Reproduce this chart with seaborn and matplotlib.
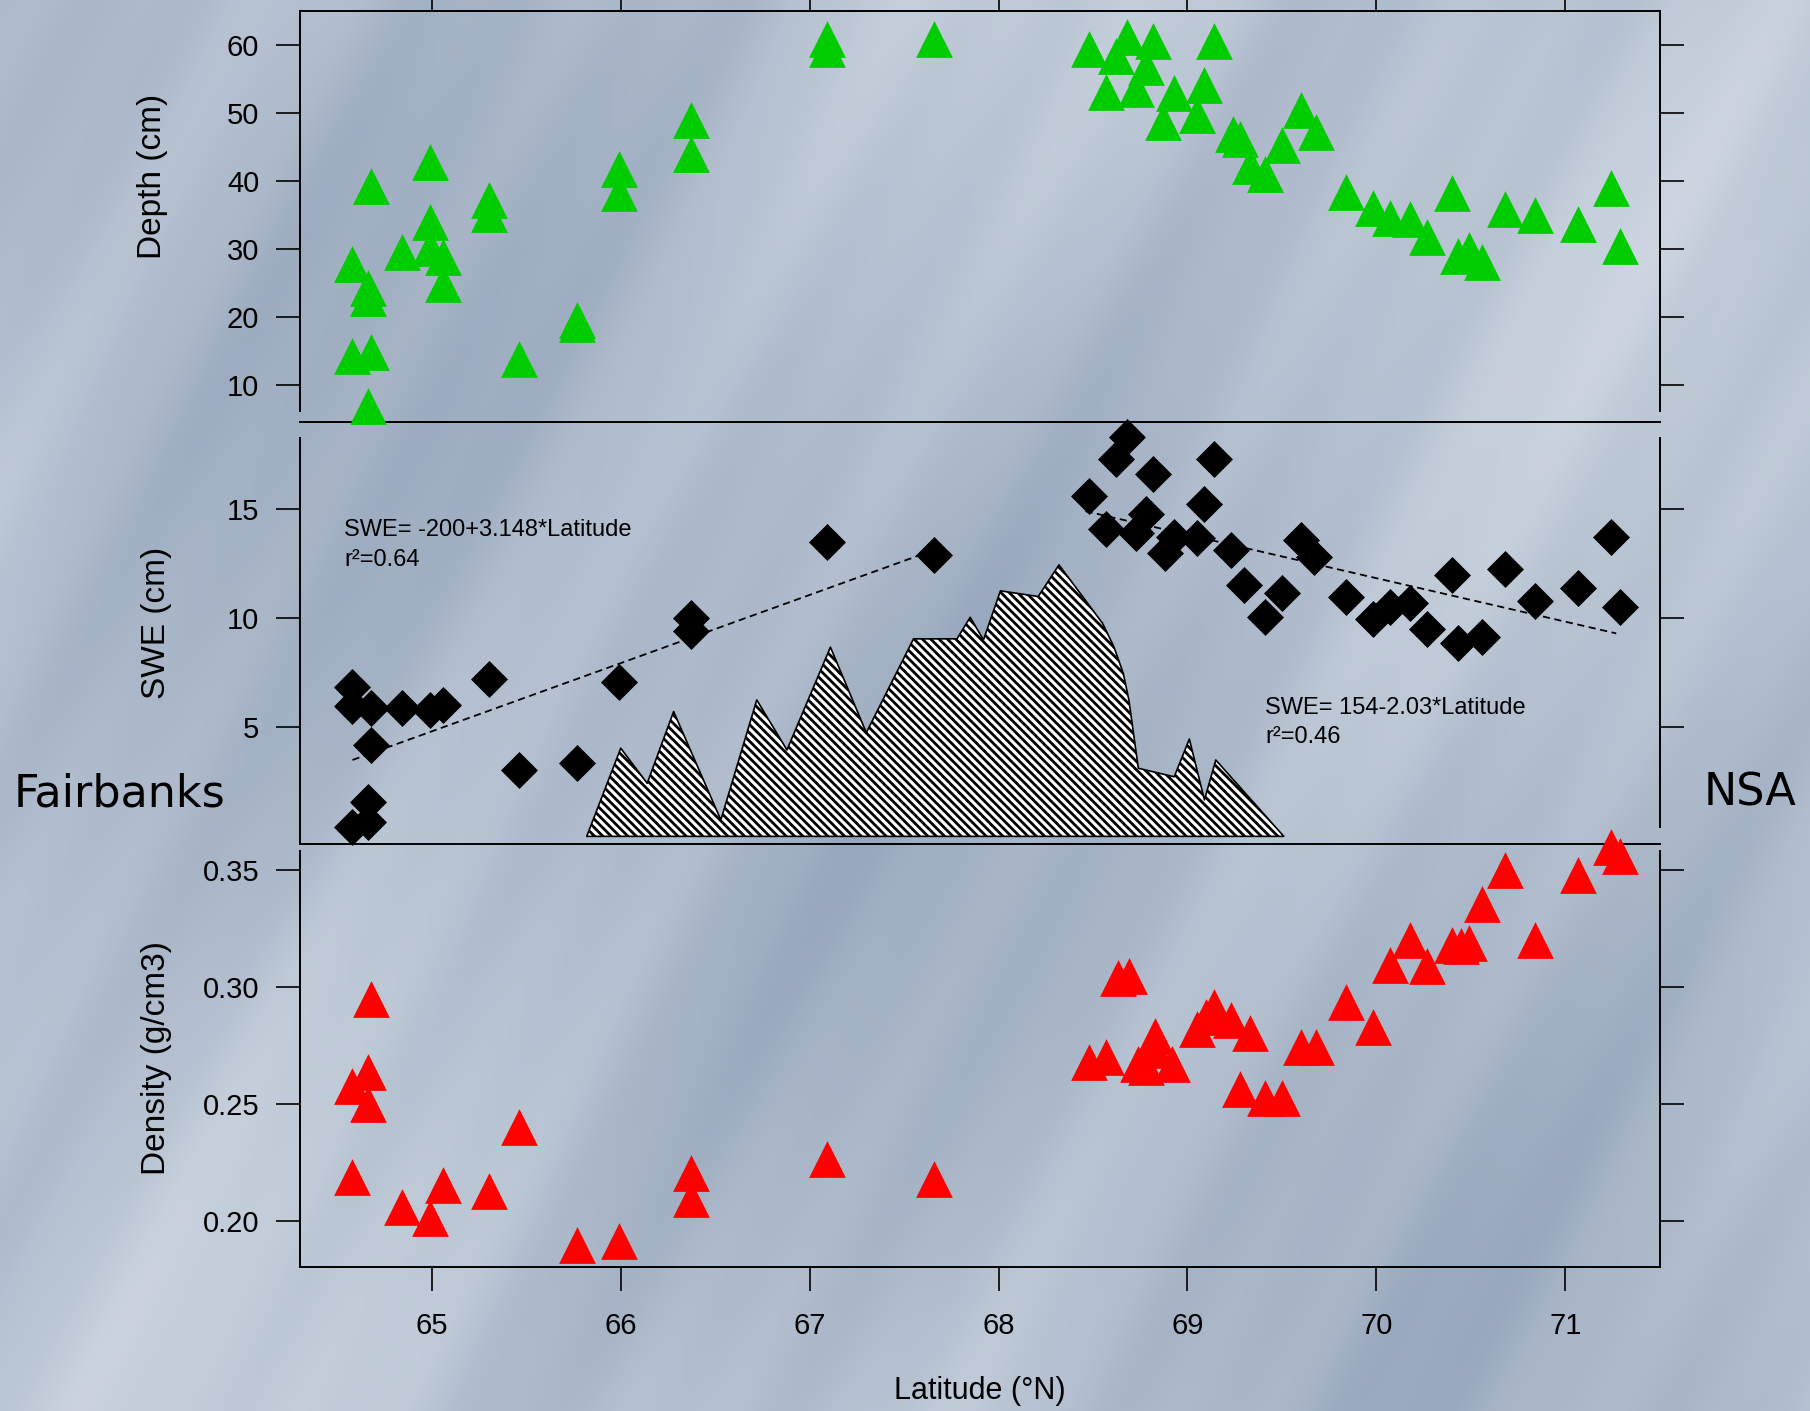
import numpy as np
import seaborn as sns
import matplotlib.pyplot as plt
from matplotlib.colors import LinearSegmentedColormap

# =============================================================================
# values
depth_lat = [64.58, 64.66, 64.66, 64.58, 64.68, 64.66, 64.68, 64.84, 64.99, 64.99,
             64.99, 65.06, 65.06, 65.30, 65.30, 65.46, 65.77, 65.77, 65.99, 65.99,
             66.37, 66.37, 67.09, 67.09,
             67.66, 68.48, 68.68, 68.82, 69.14, 68.62, 68.78, 68.57, 68.73, 68.93,
             69.09, 68.87, 69.05, 69.24, 69.28, 69.60, 69.68, 69.50, 69.33, 69.41,
             69.84, 69.98, 70.07, 70.18, 70.27, 70.40, 70.43, 70.49, 70.56, 70.68,
             70.84, 71.07, 71.24, 71.29]
depth_cm = [27.8, 24.2, 22.8, 14.3, 14.9, 6.9, 39.3, 29.6, 42.8, 34.0,
            30.1, 28.8, 24.8, 37.2, 35.1, 13.8, 19.6, 18.9, 41.7, 38.2,
            49.0, 43.9, 60.8, 59.3,
            60.9, 59.3, 61.1, 60.5, 60.5, 58.3, 56.7, 53.1, 53.5, 52.9,
            54.1, 48.7, 49.6, 46.9, 46.1, 50.4, 47.2, 45.2, 42.2, 41.0,
            38.4, 36.0, 34.6, 34.4, 31.8, 38.2, 28.9, 29.9, 28.0, 35.8,
            34.9, 33.6, 39.0, 30.4]

swe_lat = [64.58, 64.58, 64.68, 64.68, 64.84, 64.99, 65.06, 65.30, 65.46, 65.77,
           65.99, 66.37, 66.37, 67.09, 64.66, 64.58, 64.66,
           67.66, 68.68, 68.62, 68.82, 69.14, 68.48, 69.09, 68.78, 68.57, 68.73,
           68.88, 68.93, 69.05, 69.23, 69.60, 69.67, 69.30, 69.50, 69.41, 69.84,
           69.98, 70.07, 70.18, 70.27, 70.40, 70.43, 70.56, 70.68, 70.84, 71.07,
           71.24, 71.29]
swe_cm = [6.83, 5.98, 5.87, 4.19, 5.87, 5.80, 6.02, 7.22, 3.04, 3.35,
          7.06, 10.0, 9.39, 13.48, 1.59, 0.44, 0.67,
          12.9, 18.3, 17.3, 16.6, 17.3, 15.6, 15.23, 14.75, 14.1, 13.9,
          12.98, 13.7, 13.65, 13.1, 13.56, 12.8, 11.54, 11.17, 10.05, 10.99,
          9.97, 10.49, 10.69, 9.51, 11.97, 8.85, 9.14, 12.26, 10.79, 11.36,
          13.73, 10.53]

dens_lat = [64.68, 64.66, 64.58, 64.66, 64.58, 64.84, 64.99, 65.06, 65.30, 65.46,
            65.77, 65.99, 66.37, 66.37, 67.09,
            67.66, 68.48, 68.57, 68.63, 68.69, 68.74, 68.78, 68.83, 68.83, 68.92,
            69.05, 69.10, 69.14, 69.23, 69.33, 69.28, 69.41, 69.50, 69.60, 69.68,
            69.84, 69.98, 70.07, 70.18, 70.27, 70.40, 70.45, 70.49, 70.56, 70.68,
            70.84, 71.07, 71.24, 71.29]
dens_gcm3 = [0.295, 0.264, 0.258, 0.250, 0.219, 0.206, 0.2015, 0.2155, 0.213, 0.2405,
             0.190, 0.1915, 0.2205, 0.2095, 0.2265,
             0.218, 0.268, 0.270, 0.304, 0.305, 0.267, 0.266, 0.279, 0.273, 0.267,
             0.282, 0.2875, 0.2915, 0.286, 0.2805, 0.2565, 0.2525, 0.2525, 0.2745, 0.2745,
             0.2935, 0.283, 0.3095, 0.320, 0.309, 0.318, 0.3175, 0.319, 0.3355, 0.350,
             0.320, 0.348, 0.360, 0.356]

# elevation profile drawn (hatched) in the SWE panel
elev_lat = [65.82, 66.00, 66.14, 66.28, 66.53, 66.72, 66.88, 67.11, 67.30, 67.55,
            67.78, 67.85, 67.92, 68.01, 68.21, 68.32, 68.55, 68.61, 68.66, 68.69,
            68.74, 68.93, 69.01, 69.09, 69.15, 69.51]
elev_val = [0.0, 4.04, 2.43, 5.72, 0.75, 6.25, 3.96, 8.67, 4.75, 9.05,
            9.05, 10.04, 9.0, 11.25, 10.99, 12.44, 9.77, 8.70, 7.48, 6.25,
            3.12, 2.73, 4.46, 1.67, 3.50, 0.0]

# regression lines (south / north of the range)
fit_s_lat = [64.58, 67.62]
fit_s_swe = [3.5, 13.0]
fit_n_lat = [68.46, 71.27]
fit_n_swe = [14.9, 9.3]

lat_ticks = [65, 66, 67, 68, 69, 70, 71]
depth_ticks = [10, 20, 30, 40, 50, 60]
swe_ticks = [5, 10, 15]
dens_ticks = [0.20, 0.25, 0.30, 0.35]

# =============================================================================
sns.set_style('ticks')
plt.rcParams['font.family'] = ['Liberation Sans', 'DejaVu Sans']
plt.rcParams['hatch.linewidth'] = 2.0
for k in ['text.color', 'axes.labelcolor', 'xtick.color', 'ytick.color']:
    plt.rcParams[k] = 'black'

W, H = 1810, 1411
fig = plt.figure(figsize=(W / 100, H / 100), dpi=100)

# snowy backdrop
bg = fig.add_axes([0, 0, 1, 1], zorder=0)
yy, xx = np.mgrid[0:H:3, 0:W:3].astype(float)
p = xx * 0.87 + yy * 0.5
tex = (0.55 + 0.12 * np.sin(p / 110.0) + 0.07 * np.sin(p / 41.0 + 1.7)
       + 0.03 * np.sin(p / 17.0 + xx / 170.0)
       - 0.13 * np.cos(xx / 430.0 - yy / 390.0))
cmap = LinearSegmentedColormap.from_list('snow', ['#97a7bc', '#b2bece', '#ccd5e0'])
bg.imshow(tex, cmap=cmap, aspect='auto', extent=[0, 1, 0, 1], interpolation='bilinear')
bg.axis('off')


def frac(x0, y0, x1, y1):
    return [x0 / W, 1 - y1 / H, (x1 - x0) / W, (y1 - y0) / H]


ax1 = fig.add_axes(frac(299.6, 11, 1659.7, 421.7), zorder=2)
ax2 = fig.add_axes(frac(299.6, 421.7, 1659.7, 844), zorder=2)
ax3 = fig.add_axes(frac(299.6, 844, 1659.7, 1267.2), zorder=2)

tick_kw = dict(direction='out', length=17, width=1.2, color='black', labelsize=21)

# -- depth --
sns.scatterplot(x=depth_lat, y=depth_cm, ax=ax1, marker='^', s=700, color='#00cc00',
                linewidth=0, clip_on=False, legend=False, zorder=3)
ax1.set_ylim(4.6, 64.95)
ax1.set_yticks(depth_ticks)
ax1.tick_params(axis='x', top=True, bottom=False, labeltop=False, labelbottom=False, **tick_kw)
ax1.set_ylabel('Depth (cm)', fontsize=24)
ax1.yaxis.set_label_coords(-0.097, 0.597)
for s in ['left', 'right']:
    ax1.spines[s].set_bounds(6.1, 64.95)

# -- SWE --
ax2.fill_between(elev_lat, 0, elev_val, facecolor='white', edgecolor='black',
                 hatch='\\\\\\\\', linewidth=1.2, zorder=1)
sns.lineplot(x=fit_s_lat, y=fit_s_swe, ax=ax2, color='black', linewidth=1.3,
             linestyle=(0, (4, 2.5)), zorder=2)
sns.lineplot(x=fit_n_lat, y=fit_n_swe, ax=ax2, color='black', linewidth=1.3,
             linestyle=(0, (4, 2.5)), zorder=2)
sns.scatterplot(x=swe_lat, y=swe_cm, ax=ax2, marker='D', s=355, color='black',
                linewidth=0, clip_on=False, legend=False, zorder=3)
ax2.set_ylim(-0.35, 19.0)
ax2.set_yticks(swe_ticks)
ax2.tick_params(axis='x', top=False, bottom=False, labelbottom=False)
ax2.set_ylabel('SWE (cm)', fontsize=24)
ax2.yaxis.set_label_coords(-0.094, 0.523)
ax2.spines['top'].set_visible(False)
ax2.spines['left'].set_bounds(-0.35, 18.27)
ax2.spines['right'].set_bounds(0.45, 18.27)
ax2.text(64.536, 14.05, 'SWE= -200+3.148*Latitude', fontsize=17, va='center')
ax2.text(64.536, 12.67, 'r²=0.64', fontsize=17, va='center')
ax2.text(69.41, 5.89, 'SWE= 154-2.03*Latitude', fontsize=17, va='center')
ax2.text(69.41, 4.57, 'r²=0.46', fontsize=17, va='center')

# -- density --
sns.scatterplot(x=dens_lat, y=dens_gcm3, ax=ax3, marker='^', s=700, color='#ff0000',
                linewidth=0, clip_on=False, legend=False, zorder=3)
ax3.set_ylim(0.1804, 0.3612)
ax3.set_yticks(dens_ticks)
ax3.set_yticklabels([f'{t:.2f}' for t in dens_ticks])
ax3.set_xticks(lat_ticks)
ax3.set_xticklabels([str(t) for t in lat_ticks])
ax3.tick_params(axis='x', top=False, bottom=True, pad=15, **tick_kw)
ax3.set_xlabel('Latitude (°N)', fontsize=22, labelpad=26)
ax3.set_ylabel('Density (g/cm3)', fontsize=24)
ax3.yaxis.set_label_coords(-0.094, 0.495)
ax3.spines['top'].set_visible(False)
for s in ['left', 'right']:
    ax3.spines[s].set_bounds(0.1804, 0.358)

for ax in (ax1, ax2, ax3):
    ax.set_facecolor('none')
    ax.set_xlim(64.30, 71.50)
    ax.set_xticks(lat_ticks)
    ax.tick_params(axis='y', left=True, right=True, labelright=False, pad=12, **tick_kw)
    for s in ax.spines.values():
        s.set_linewidth(1.4)
        s.set_color('black')

fig.text(14 / W, 1 - 794 / H, 'Fairbanks', fontsize=32, va='center', ha='left',
         family=['DejaVu Sans'])
fig.text(1704 / W, 1 - 793 / H, 'NSA', fontsize=32, va='center', ha='left',
         family=['DejaVu Sans'])

fig.savefig('out.png', dpi=100)
